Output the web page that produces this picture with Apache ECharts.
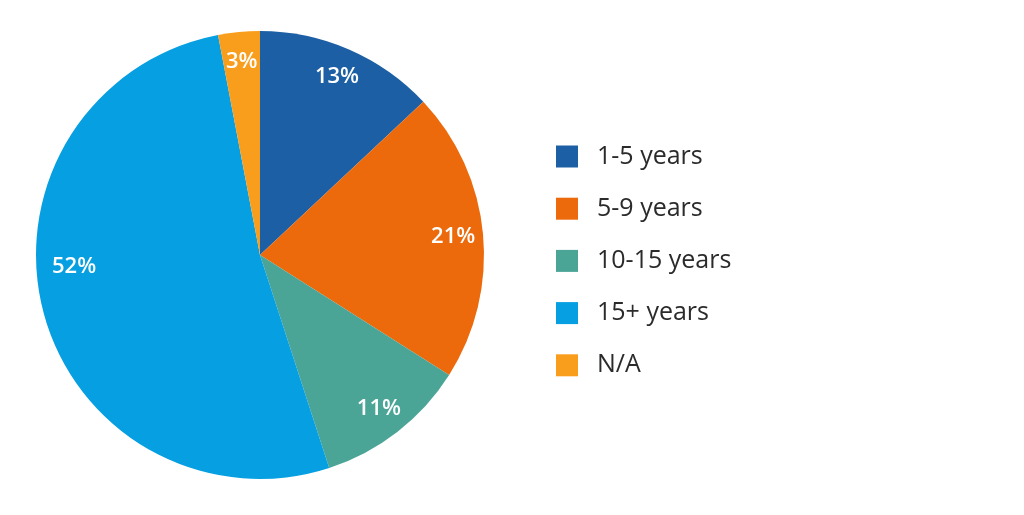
<!DOCTYPE html>
<html>
<head>
<meta charset="utf-8">
<script src="https://cdn.jsdelivr.net/npm/echarts@6/dist/echarts.min.js"></script>
<style>
  html, body { margin: 0; padding: 0; background: #fff; }
  #chart { width: 1024px; height: 515px; }
</style>
</head>
<body>
<div id="chart"></div>
<script>
    var categories = ['1-5 years', '5-9 years', '10-15 years', '15+ years', 'N/A'];
    var shares = [13, 21, 11, 52, 3];
    var colors = ['#1c5fa4', '#ec6a0b', '#4ba597', '#069fe1', '#f99d1c'];

    var pieData = categories.map(function (name, i) {
        return { name: name, value: shares[i], itemStyle: { color: colors[i] } };
    });

    // labels sit further out than the ring middle, so a clear ring carries them
    var labelData = categories.map(function (name, i) {
        var d = { name: name, value: shares[i] };
        if (i === 3) {
            d.label = { offset: [2, -37] };
        }
        return d;
    });

    var myChart = echarts.init(document.getElementById('chart'));
    myChart.setOption({
        animation: false,
        legend: {
            orient: 'vertical',
            left: 551,
            top: 139,
            icon: 'rect',
            itemWidth: 22,
            itemHeight: 22,
            itemGap: 27.2,
            selectedMode: false,
            data: categories,
            textStyle: {
                fontFamily: 'Open Sans',
                fontSize: 25,
                color: '#2b2b2b',
                lineHeight: 22,
                padding: [0, 0, 0, 14]
            }
        },
        series: [
            {
                type: 'pie',
                center: [260, 255],
                radius: [0, 224],
                startAngle: 90,
                clockwise: true,
                silent: true,
                label: { show: false },
                labelLine: { show: false },
                itemStyle: { borderWidth: 0 },
                data: pieData
            },
            {
                type: 'pie',
                center: [260, 255],
                radius: [158, 224],
                startAngle: 90,
                clockwise: true,
                silent: true,
                legendHoverLink: false,
                itemStyle: { color: 'rgba(0,0,0,0)', borderWidth: 0 },
                label: {
                    show: true,
                    position: 'inside',
                    formatter: '{c}%',
                    color: '#fff',
                    fontFamily: 'Open Sans',
                    fontSize: 22,
                    fontWeight: 600
                },
                labelLine: { show: false },
                data: labelData
            }
        ]
    });
</script>
</body>
</html>
